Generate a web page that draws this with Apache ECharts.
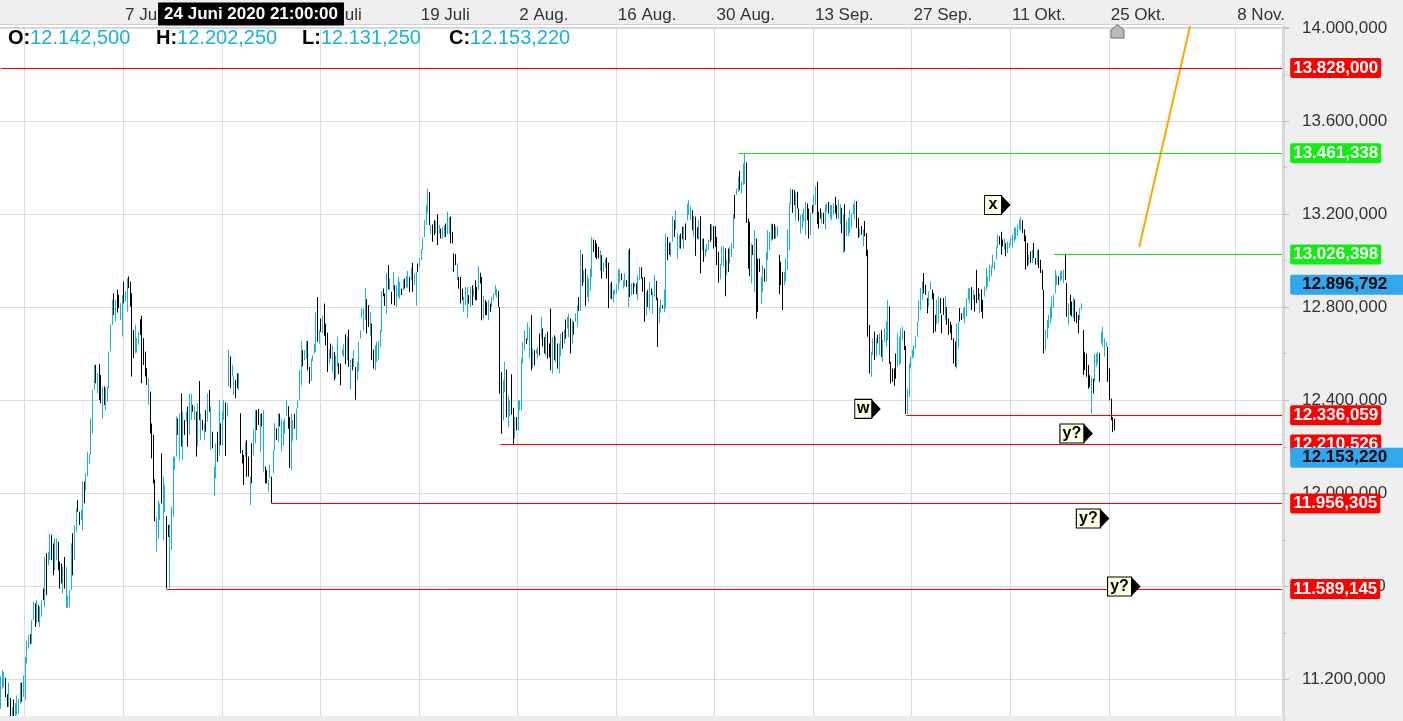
<!DOCTYPE html>
<html><head><meta charset="utf-8">
<script src="https://cdn.jsdelivr.net/npm/echarts@6/dist/echarts.min.js"></script>
<style>html,body{margin:0;padding:0;background:#fff;overflow:hidden}#c{width:1403px;height:721px}</style>
</head><body><div id="c"></div><script>
// ---- data: bars as [open, high, low, close] ----
const barsMayJun = [
[11100,11214,11075,11190],[11175,11240,11161,11225],[11185,11233,11168,11220],[11200,11208,11125,11140],[11130,11137,11082,11090],
[11095,11187,11082,11170],[11110,11121,11010,11030],[11035,11082,11020,11070],[11100,11115,11000,11015],[11020,11100,11010,11090],
[11055,11132,11046,11120],[11065,11118,11053,11105],[11105,11187,11096,11175],[11175,11187,11104,11115],[11130,11218,11125,11205],
[11140,11297,11111,11280],[11280,11369,11269,11355],[11345,11390,11333,11380],[11385,11395,11352,11360],[11365,11455,11355,11440],
[11460,11534,11455,11520],[11515,11527,11426,11440],[11450,11541,11441,11530],[11510,11519,11448,11460],[11440,11512,11426,11500],
[11480,11541,11469,11530],[11580,11591,11541,11550],[11545,11727,11512,11700],[11720,11742,11562,11580],[11700,11749,11691,11740],
[11725,11828,11713,11810],[11810,11821,11713,11730],[11760,11785,11648,11660],[11680,11806,11670,11790],[11725,11806,11713,11795],
[11780,11792,11670,11690],[11695,11706,11591,11600],[11690,11699,11613,11625],[11585,11684,11570,11670],[11710,11727,11591,11600],
[11520,11684,11508,11670],[11515,11562,11508,11555],[11525,11584,11512,11575],[11595,11785,11584,11770],[11800,11828,11648,11660],
[11725,11864,11713,11850],[11845,11935,11835,11925],[11965,11971,11921,11930],[11915,11921,11864,11870],[11890,11931,11885,11925],
[11860,12050,11842,12035],[12040,12050,11957,11965],[12020,12086,12014,12080],[12080,12179,12072,12170],[12135,12165,12129,12160],
[12170,12322,12165,12310],[12270,12444,12258,12430],[12450,12552,12444,12540],[12545,12552,12473,12480],[12440,12516,12430,12505],
[12530,12555,12401,12420],[12440,12509,12387,12395],[12330,12459,12322,12450],[12450,12459,12380,12390],[12370,12452,12358,12440],
[12400,12459,12394,12450],[12460,12609,12452,12600],[12615,12724,12609,12715],[12730,12832,12724,12825],[12840,12860,12767,12780],
[12750,12832,12738,12820],[12860,12875,12777,12790],[12845,12853,12796,12800],[12755,12817,12746,12810],[12700,12853,12674,12840],
[12900,12910,12817,12825],[12830,12867,12825,12860],[12800,12925,12781,12910],[12925,12932,12882,12890],[12895,12910,12803,12810],
[12800,12860,12502,12530],[12690,12702,12581,12590],[12610,12724,12602,12715],[12615,12667,12605,12660],[12645,12695,12638,12690],
[12740,12748,12681,12690],[12700,12763,12473,12480],[12655,12667,12552,12560],[12600,12609,12502,12510],[12530,12538,12466,12475],
[12390,12495,12380,12485],[12420,12437,12258,12270],[12290,12301,12150,12160],[12230,12251,12043,12050],[12050,12060,11880,11890],
[11760,11899,11749,11890],[11815,11971,11806,11960],[11890,11957,11885,11950],[12150,12172,11957,11965],[11810,12072,11799,12060],
[11930,12036,11921,12030],[11880,11902,11591,11610],[11860,11864,11813,11820],[11600,11868,11591,11850],[11770,11942,11756,11930],
[11910,12158,11899,12150],[12105,12158,12100,12150],[12165,12330,12158,12320],[12315,12322,12251,12260],[12150,12344,12143,12335],
[12400,12430,12201,12210],[12150,12351,12143,12345],[12310,12315,12251,12255],[12312,12351,12308,12345],[12360,12373,12201,12210],
[12260,12430,12251,12420],[12320,12427,12315,12420],[12375,12380,12351,12355],[12320,12373,12315,12370],[12345,12351,12158,12165],
[12210,12387,12201,12380],[12400,12483,12315,12320],[12235,12344,12229,12340],[12310,12315,12272,12275],[12235,12301,12229,12295],
[12350,12358,12265,12270],[12315,12430,12308,12425],[12435,12444,12351,12360],[12195,12373,12186,12365],[12260,12265,12193,12200],
[11995,12115,11988,12110],[12070,12215,12064,12210],[12255,12265,12136,12140],[12175,12401,12165,12390],[12295,12301,12208,12215],
[12215,12351,12208,12345],[12320,12401,12315,12395],[12385,12391,12161,12170],[12335,12387,12330,12380],[12465,12616,12459,12605],
[12580,12588,12452,12460],[12505,12552,12502,12548],[12430,12502,12423,12495],[12480,12487,12409,12415],[12510,12516,12452,12458],
[12450,12516,12444,12510],[12335,12344,12172,12180],[12180,12186,12129,12135],[12160,12165,12036,12045],[12162,12222,12158,12218],
[12220,12229,12072,12080],[12150,12158,12072,12078],[11955,12072,11950,12065],[12205,12215,12043,12050],[12170,12275,12165,12270],
[12220,12358,12215,12350],[12350,12358,12272,12280],[12355,12363,12294,12300],[12185,12344,12179,12340],[12338,12344,12287,12292],
[12100,12358,12093,12350],[12110,12115,12043,12050],[12095,12100,12043,12048],[12012,12057,12007,12052],[12068,12122,12064,12118],
[12065,12072,11957,11962],[12090,12186,12086,12180],[12190,12301,12186,12295],[12272,12279,12229,12235]
];
const barsJulAug = [
[12230,12345,12221,12335],[12335,12342,12288,12295],[12190,12321,12182,12315],[12212,12311,12206,12305],[12262,12321,12256,12315],
[12340,12400,12335,12395],[12368,12374,12278,12285],[12320,12328,12109,12120],[12110,12342,12099,12335],[12230,12314,12225,12308],
[12336,12342,12278,12285],[12235,12364,12228,12358],[12366,12400,12364,12396],[12405,12529,12400,12520],[12470,12654,12464,12645],
[12610,12615,12546,12552],[12576,12615,12572,12610],[12585,12655,12579,12650],[12645,12655,12529,12535],[12538,12543,12472,12478],
[12488,12579,12483,12574],[12571,12593,12569,12590],[12604,12641,12601,12638],[12612,12780,12608,12775],[12830,12844,12651,12660],
[12648,12701,12644,12696],[12745,12751,12694,12700],[12692,12761,12687,12755],[12800,12816,12677,12685],[12722,12730,12636,12642],
[12680,12690,12522,12530],[12562,12619,12558,12615],[12638,12644,12579,12585],[12528,12636,12522,12630],[12600,12608,12486,12492],
[12498,12593,12493,12588],[12548,12672,12543,12665],[12556,12560,12512,12516],[12552,12558,12464,12470],[12596,12618,12593,12615],
[12590,12641,12586,12636],[12676,12684,12555,12560],[12576,12672,12572,12668],[12696,12704,12543,12548],[12452,12575,12446,12570],
[12575,12579,12529,12533],[12548,12615,12543,12610],[12538,12543,12403,12408],[12490,12565,12486,12560],[12528,12651,12522,12645],
[12668,12701,12665,12698],[12757,12794,12754,12790],[12706,12794,12701,12788],[12750,12880,12744,12872],[12825,12834,12687,12694],
[12802,12809,12715,12720],[12684,12780,12679,12775],[12722,12730,12572,12578],[12612,12618,12536,12540],[12534,12636,12529,12630],
[12570,12651,12565,12646],[12576,12655,12572,12650],[12634,12701,12629,12696],[12700,12869,12694,12862],[12876,12880,12847,12850],
[12855,12859,12806,12810],[12778,12948,12773,12940],[12972,12981,12877,12884],[12876,12923,12873,12918],[12860,12866,12813,12818],
[12878,12952,12873,12946],[12888,12895,12809,12814],[12806,12895,12801,12890],[12848,12930,12844,12925],[12842,12909,12837,12904],
[12876,12880,12852,12855],[12876,12919,12873,12915],[12918,12923,12880,12884],[12887,12933,12883,12928],[12890,12956,12885,12950],
[12925,12930,12864,12868],[12920,12971,12916,12966],[12985,12991,12866,12870],[12898,12945,12895,12940],[12812,12952,12806,12946],
[12984,12988,12952,12956],[12976,13009,12973,13005],[13005,13049,13002,13045],[13048,13095,13045,13090],[13106,13174,13102,13170],
[13156,13239,13153,13234],[13208,13310,13203,13305],[13285,13293,13153,13160],[13117,13153,13114,13150],[13150,13156,13081,13085],
[13168,13174,13110,13114],[13120,13171,13117,13168],[13190,13199,13067,13072],[13120,13153,13117,13150],[13134,13138,13095,13098],
[13098,13143,13095,13140],[13105,13153,13102,13150],[13155,13160,13102,13106],[13116,13210,13113,13205],[13118,13189,13114,13185],
[13182,13189,13074,13078],[13120,13124,13074,13078],[13026,13031,12952,12956],[13024,13028,12981,12985],[12920,12988,12916,12984],
[12926,12930,12880,12884],[12924,12930,12816,12820],[12876,12880,12830,12834],[12784,12844,12780,12840],[12812,12887,12809,12882],
[12760,12887,12754,12882],[12848,12852,12816,12820],[12806,12887,12801,12882],[12888,12895,12809,12814],[12848,12880,12844,12876],
[12910,12916,12830,12835],[12882,12887,12830,12834],[12878,12976,12873,12970],[12944,12948,12902,12906],[12924,12930,12744,12750],
[12756,12847,12751,12842],[12825,12830,12766,12770],[12818,12823,12766,12770],[12748,12830,12744,12825],[12812,12816,12780,12784],
[12804,12844,12801,12840],[12833,12859,12830,12856],[12855,12895,12852,12890],[12844,12880,12841,12876],[12864,12869,12801,12805],
[12800,12801,12428,12440],[12430,12522,12256,12270],[12320,12486,12314,12480],[12440,12565,12436,12560],[12525,12532,12328,12335],
[12290,12421,12285,12415],[12335,12400,12331,12395],[12505,12512,12338,12345],[12360,12368,12211,12225],[12240,12328,12235,12322],
[12322,12328,12271,12276],[12276,12400,12271,12395],[12360,12400,12357,12396],[12362,12579,12357,12572],[12562,12651,12558,12646],
[12620,12701,12615,12696],[12662,12665,12641,12644],[12662,12734,12658,12730],[12584,12715,12579,12710],[12700,12766,12529,12535],
[12545,12622,12540,12618],[12610,12615,12550,12555],[12603,12619,12601,12617],[12583,12629,12579,12625],[12680,12687,12593,12598],
[12670,12758,12665,12752],[12702,12708,12632,12636],[12666,12672,12601,12605],[12598,12687,12593,12682],[12688,12694,12579,12584],
[12640,12644,12584,12588],[12785,12794,12529,12540],[12520,12672,12515,12665],[12672,12679,12572,12576],[12570,12672,12565,12668],
[12640,12644,12536,12540]
];
const barsAugSep = [
[12520,12644,12515,12638],[12594,12687,12589,12682],[12688,12694,12622,12628],[12648,12704,12644,12700],[12740,12747,12665,12670],
[12712,12758,12708,12754],[12676,12773,12672,12768],[12745,12751,12601,12606],[12648,12744,12644,12740],[12732,12737,12682,12686],
[12740,12773,12737,12770],[12720,12809,12715,12804],[12838,12844,12784,12788],[12790,13045,12784,13038],[13020,13028,12892,12898],
[12908,12959,12905,12955],[12960,12966,12806,12810],[12848,12938,12844,12934],[12828,12923,12823,12918],[12874,12966,12870,12962],
[12932,13102,12928,13096],[13086,13091,13038,13042],[13082,13088,13014,13018],[13068,13074,13006,13010],[13054,13059,13009,13014],
[12960,13045,12956,13040],[13018,13024,12923,12928],[12955,12991,12952,12988],[12974,13009,12971,13005],[13008,13014,12923,12928],
[12960,12991,12797,12805],[12840,12902,12837,12898],[12905,12910,12834,12838],[12824,12873,12820,12870],[12855,12876,12852,12874],
[12862,12899,12859,12896],[12880,12966,12876,12962],[12908,12962,12905,12958],[12942,12945,12916,12919],[12884,12916,12880,12912],
[12894,12945,12890,12940],[12912,12916,12887,12890],[12806,13045,12801,13040],[13045,13052,12844,12850],[12856,12902,12852,12898],
[12900,12905,12856,12860],[12889,12902,12887,12900],[12898,12902,12856,12860],[12835,12938,12830,12934],[12920,12973,12916,12970],
[12966,12971,12923,12927],[12924,12928,12866,12870],[12900,12930,12737,12745],[12770,12866,12766,12862],[12868,12873,12801,12805],
[12792,12909,12787,12904],[12876,12880,12852,12855],[12778,12866,12773,12862],[12848,12938,12844,12934],[12908,12913,12830,12834],
[12830,12841,12629,12640],[12736,12801,12732,12796],[12780,12833,12776,12829],[12806,12809,12794,12797],[12784,12876,12780,12872],
[12800,13117,12794,13110],[13096,13102,13002,13006],[13072,13077,13024,13028],[13020,13081,13016,13076],[13086,13191,13081,13186],
[13168,13174,13102,13106],[13138,13217,13134,13212],[13014,13120,13009,13115],[13056,13110,13052,13106],[13112,13117,13052,13056],
[13140,13146,13092,13096],[13056,13146,13052,13142],[13155,13160,13088,13092],[13178,13243,13174,13238],[13200,13260,13196,13255],
[13178,13232,13174,13228],[13212,13217,13131,13135],[13106,13191,13102,13186],[13182,13189,13021,13026],[13138,13143,13095,13099],
[13092,13174,13088,13170],[13170,13191,12945,12950],[13048,13095,13045,13091],[13090,13095,12995,13000],[13020,13052,13016,13048],
[13041,13071,13038,13068],[13048,13091,13045,13088],[13150,13156,13081,13086],[13092,13157,13088,13153],[13143,13148,13052,13056],
[13142,13148,13059,13063],[13096,13102,12981,12986],[13032,13038,12905,12910],[12922,12985,12919,12980],[12985,13059,12981,13055],
[12977,13062,12973,13058],[13045,13052,12847,12852],[12942,13002,12938,12998],[13046,13052,12952,12956],[12992,13059,12988,13055],
[13020,13074,13016,13070],[13056,13200,13052,13195],[13276,13282,13181,13186],[13285,13310,13282,13306],[13300,13361,13296,13356],
[13380,13386,13303,13308],[13292,13339,13289,13335],[13330,13418,13325,13414],[13334,13461,13329,13455],[13415,13422,13163,13170],
[13170,13181,12966,12972],[13160,13167,12933,12940],[12906,13074,12902,13068],[13062,13067,13024,13028],[12870,13131,12866,13126],
[13088,13095,12751,12760],[13000,13009,12780,12790],[13004,13009,12952,12956],[12820,12930,12816,12926],[12870,12981,12866,12976],
[12962,12966,12909,12913],[12913,13038,12909,13034],[13006,13131,13002,13126],[13048,13124,13045,13120],[13088,13160,13085,13156],
[13152,13157,13091,13095],[13150,13157,13094,13098],[13098,13148,13095,13144],[13105,13148,13102,13145],[13016,13024,12856,12860],
[12990,12995,12895,12900],[12946,12952,12787,12792],[12898,12952,12895,12948],[12912,13009,12909,13004],[12962,13134,12959,13130],
[13050,13249,13045,13244],[13246,13310,13243,13306],[13300,13306,13206,13210],[13298,13303,13239,13243],[13178,13292,13174,13288],
[13290,13296,13224,13228],[13220,13224,13171,13175],[13120,13196,13117,13192],[13142,13203,13138,13198],[13170,13224,13167,13220],
[13114,13253,13110,13248],[13240,13246,13174,13178],[13218,13224,13095,13100],[13114,13206,13110,13202],[13235,13239,13203,13206],
[13214,13282,13210,13278],[13242,13320,13239,13316],[13330,13339,13157,13162],[13204,13210,13138,13142],[13220,13224,13181,13185],
[13163,13206,13160,13202],[13202,13206,13157,13160],[13138,13239,13134,13235],[13213,13246,13210,13242],[13248,13253,13203,13206],
[13184,13239,13181,13235],[13178,13239,13174,13235],[13199,13246,13196,13242],[13270,13275,13203,13206],[13235,13239,13181,13185]
];
const barsSepOct = [
[13182,13263,13177,13258],[13160,13242,13155,13238],[13222,13227,13119,13124],[13040,13199,13033,13194],[13236,13242,13040,13046],
[13108,13170,13105,13166],[13108,13184,13105,13180],[13122,13220,13119,13216],[13144,13206,13141,13202],[13202,13242,13199,13238],
[13180,13256,13177,13252],[13250,13256,13141,13146],[13178,13184,13098,13102],[13108,13134,13105,13130],[13144,13148,13112,13115],
[13066,13134,13062,13130],[13165,13170,13105,13108],[13114,13119,13019,13024],[13030,13047,12673,12690],[12715,12724,12515,12525],
[12505,12609,12501,12604],[12598,12666,12594,12662],[12690,12695,12573,12578],[12590,12666,12587,12662],[12678,12681,12645,12648],
[12598,12688,12594,12684],[12696,12702,12587,12592],[12570,12659,12565,12655],[12655,12709,12652,12705],[12634,12738,12630,12734],
[12664,12832,12659,12826],[12780,12803,12558,12565],[12560,12565,12472,12476],[12532,12537,12479,12483],[12530,12537,12462,12466],
[12596,12601,12493,12498],[12548,12688,12544,12684],[12556,12673,12551,12668],[12562,12709,12558,12704],[12662,12716,12659,12712],
[12692,12698,12616,12620],[12620,12633,12342,12350],[12346,12450,12342,12445],[12418,12558,12414,12553],[12540,12587,12537,12583],
[12583,12616,12580,12612],[12590,12637,12587,12633],[12626,12673,12623,12669],[12676,12738,12673,12734],[12742,12832,12738,12827],
[12792,12882,12788,12877],[12836,12911,12832,12906],[12940,12947,12860,12865],[12892,12896,12853,12857],[12834,12839,12774,12778],
[12806,12868,12803,12864],[12878,12911,12875,12908],[12871,12875,12834,12838],[12855,12860,12688,12695],[12762,12767,12695,12700],
[12732,12832,12728,12828],[12736,12846,12731,12842],[12834,12839,12774,12778],[12762,12767,12688,12692],[12834,12839,12767,12770],
[12750,12846,12745,12842],[12795,12800,12724,12728],[12748,12752,12681,12685],[12734,12738,12688,12692],[12720,12724,12659,12663],
[12660,12666,12558,12562],[12646,12652,12544,12548],[12542,12731,12537,12726],[12627,12738,12623,12733],[12790,12796,12738,12742],
[12770,12774,12745,12748],[12755,12796,12752,12792],[12735,12803,12731,12799],[12764,12839,12760,12835],[12835,12882,12832,12878],
[12820,12882,12817,12878],[12880,12886,12788,12792],[12835,12875,12832,12871],[12848,12853,12781,12785],[12950,12961,12817,12822],
[12878,12882,12832,12836],[12778,12860,12774,12856],[12872,12878,12781,12785],[12826,12832,12752,12756],[12849,12889,12846,12885],
[12878,12968,12875,12964],[12892,12932,12889,12928],[12914,12983,12911,12978],[12935,12978,12932,12974],[12971,13026,12968,13022],
[12964,12997,12961,12993],[13007,13062,13004,13058],[13058,13112,13055,13108],[13101,13105,13069,13072],[13118,13124,13026,13030],
[13087,13091,13062,13065],[13050,13094,13047,13090],[13071,13076,13019,13023],[13036,13083,13033,13079],[13057,13076,13055,13073],
[13071,13098,13069,13095],[13058,13112,13055,13108],[13082,13145,13079,13141],[13094,13141,13091,13137],[13108,13155,13105,13151],
[13137,13177,13134,13173],[13130,13188,13127,13184],[13170,13174,13119,13122],[13130,13134,13083,13086],[13100,13108,12961,12966],
[13070,13076,12976,12980],[12986,13026,12983,13022],[13036,13040,12990,12994],[12993,13047,12990,13043],[13071,13076,13011,13015],
[13008,13011,12983,12986],[12986,13047,12983,13043],[13042,13047,12968,12972],[13000,13004,12947,12950],[12956,12961,12875,12880],
[12870,12875,12601,12610],[12620,12702,12616,12698],[12670,12745,12666,12740],[12712,12767,12709,12763],[12735,12803,12731,12799],
[12756,12846,12752,12842],[12799,12853,12796,12849],[12864,12961,12860,12957],[12899,12940,12896,12936],[12928,12932,12896,12900],
[12914,12954,12911,12950],[12921,12958,12918,12954],[12907,12961,12904,12957],[13000,13030,12918,12925],[12898,12904,12760,12765],
[12728,12817,12724,12813],[12848,12853,12767,12770],[12820,12824,12760,12764],[12756,12843,12752,12839],[12826,12832,12738,12742],
[12776,12781,12731,12734],[12762,12767,12688,12692],[12748,12796,12745,12792],[12791,12817,12788,12814],[12696,12702,12508,12515],
[12604,12609,12529,12533],[12596,12601,12501,12505],[12546,12551,12450,12454],[12504,12508,12457,12460],[12346,12501,12342,12496],
[12488,12493,12429,12432],[12483,12601,12479,12596],[12547,12601,12544,12597],[12561,12609,12558,12605],[12598,12604,12479,12483],
[12648,12695,12645,12691],[12634,12716,12630,12712],[12590,12666,12587,12662],[12632,12652,12630,12649],[12624,12630,12479,12483],
[12530,12537,12400,12405],[12402,12407,12314,12318],[12322,12328,12263,12268],[12316,12321,12270,12274]
];
// ---- axis / annotation data ----
const totalSlots = 781;
const dateTicks = [[15,' '],[75,'7 Juni'],[135,'21 Juni'],[195,'5 Juli'],[255,'19 Juli'],[315,'2 Aug.'],[375,'16 Aug.'],[435,'30 Aug.'],[495,'13 Sep.'],[555,'27 Sep.'],[615,'11 Okt.'],[675,'25 Okt.'],[752,'8 Nov.']];
const redLevels = [[13828.000,0],[12336.059,551],[12210.526,304],[11956.305,165],[11589.145,101]];
const greenLevels = [[13461.338,449],[13026.398,641]];
const blueTags = [12896.792, 12153.220];
const waveLabels = [[604,13239,'x'],[525,12363,'w'],[652,12257,'y?'],[662,11892,'y?'],[681,11600,'y?']];
const projection = [[693,13059],[724,14010]];
const ohlcKeys = ['O:','H:','L:','C:'];
const ohlcVals = [12142.500, 12202.250, 12131.250, 12153.220];
const crosshairTime = '24 Juni 2020 21:00:00';

// ---- helpers ----
const FONT = "'Liberation Sans', Arial, sans-serif";
function de(v){
  const s = v.toFixed(3).split('.');
  return s[0].replace(/\B(?=(\d{3})+(?!\d))/g,'.') + ',' + s[1];
}
const bars = [].concat(barsMayJun, barsJulAug, barsAugSep, barsSepOct);
const candleData = bars.map(b => [b[0], b[3], b[2], b[1]]);
const cats = new Array(totalSlots).fill('');
dateTicks.forEach(([i,t]) => { cats[i] = t; });
const isTick = (i, v) => v !== '';

const RED='#ff0000', GREEN='#13ec13', BLUE='#2fa8ee', CYAN='#16b3de';
const levelLines = [];
redLevels.forEach(([v,s]) => levelLines.push([
  {coord:[s,v], lineStyle:{color:RED}, label:{formatter:de(v), backgroundColor:RED}},
  {coord:[totalSlots-1,v]}]));
greenLevels.forEach(([v,s]) => levelLines.push([
  {coord:[s,v], lineStyle:{color:GREEN}, label:{formatter:de(v), backgroundColor:GREEN}},
  {coord:[totalSlots-1,v]}]));
blueTags.forEach(v => levelLines.push([
  {coord:[0,v], lineStyle:{color:'rgba(0,0,0,0)', width:0}, label:{formatter:de(v), backgroundColor:BLUE, color:'#000', padding:[2,30,1,12]}},
  {coord:[totalSlots-1,v]}]));

const boxW = t => t.length > 1 ? 24 : 17;

const ohlcX = [8, 156, 302, 449];
const graphics = [
  {type:'rect', z:-10, shape:{x:0,y:0,width:1283,height:24}, style:{fill:'#efefef'}},
  {type:'line', z:-9, shape:{x1:0,y1:24.5,x2:1283,y2:24.5}, style:{stroke:'#d2d2d2', lineWidth:1}},
  {type:'rect', z:-10, shape:{x:1283,y:0,width:120,height:721}, style:{fill:'#efefef'}},
  {type:'rect', z:100, shape:{x:0,y:716,width:1283,height:5}, style:{fill:'#ececec'}},
  {type:'text', z:100, x:251, y:14, style:{text:crosshairTime, fill:'#fff', font:'bold 17px '+FONT, align:'center', verticalAlign:'middle', backgroundColor:'#000', padding:[3,6,3,6]}},
  {type:'polygon', z:100, shape:{points:[[1111,38],[1111,30],[1117.5,24.5],[1124,30],[1124,38]]}, style:{fill:'#b9b9b9', stroke:'#6e6e6e', lineWidth:1}}
];
ohlcKeys.forEach((k,i) => graphics.push({
  type:'text', z:100, x:ohlcX[i], y:38,
  style:{text:'{k|'+k+'}{v|'+de(ohlcVals[i])+'}', verticalAlign:'middle',
    rich:{k:{fill:'#000', fontWeight:'bold', fontSize:20, fontFamily:FONT}, v:{fill:CYAN, fontSize:20, fontFamily:FONT}}}
}));

const chart = echarts.init(document.getElementById('c'), null, {renderer:'canvas'});
chart.setOption({
  animation:false,
  backgroundColor:'#ffffff',
  grid:{left:0, right:120, top:27, height:745.6, containLabel:false, outerBoundsMode:'none'},
  xAxis:{
    type:'category', data:cats, position:'top', boundaryGap:true,
    axisLine:{show:true, lineStyle:{color:'#d2d2d2'}},
    axisTick:{show:false},
    axisLabel:{interval:isTick, align:'left', margin:3, color:'#333', fontSize:17, fontFamily:FONT, padding:[0,0,0,1]},
    splitLine:{show:true, interval:isTick, lineStyle:{color:'#dcdcdc', width:1}}
  },
  yAxis:{
    type:'value', position:'right', min:10800, max:14004.2, interval:400,
    axisLine:{show:true, lineStyle:{color:'#d8d8d8', width:3}},
    axisTick:{show:true, length:6, lineStyle:{color:'#c4c4c4'}},
    minorTick:{show:true, splitNumber:2, length:4, lineStyle:{color:'#c4c4c4'}},
    splitLine:{show:true, lineStyle:{color:'#dcdcdc', width:1}},
    axisLabel:{margin:19, color:'#333', fontSize:17, fontFamily:FONT, formatter:v => de(v), showMaxLabel:false, showMinLabel:false}
  },
  series:[
    {
      type:'candlestick', name:'DAX', data:candleData, large:false, barWidth:1, z:2,
      itemStyle:{color:CYAN, color0:'#000', borderColor:CYAN, borderColor0:'#000', borderWidth:1},
      markLine:{
        silent:true, symbol:['none','none'], animation:false,
        lineStyle:{type:'solid', width:1},
        label:{show:true, position:'end', distance:8, color:'#fff', fontWeight:'bold', fontSize:17, fontFamily:FONT, padding:[2,3,1,3], borderRadius:2},
        data:levelLines
      }
    },
    {
      type:'line', name:'Projektion', data:projection, symbol:'none', silent:true, z:3,
      lineStyle:{color:'#ffa500', width:2}
    },
    {
      type:'scatter', name:'Wellen', silent:true, z:6, symbol:'rect',
      data:waveLabels.map(([i,v,t]) => ({value:[i,v], name:t, symbolSize:[boxW(t),19]})),
      itemStyle:{color:'#ffffe1', borderColor:'#000', borderWidth:1, opacity:1},
      label:{show:true, position:'inside', formatter:p => p.name, color:'#000', fontWeight:'bold', fontSize:16, fontFamily:FONT}
    },
    {
      type:'scatter', name:'Pfeile', silent:true, z:6, symbol:'triangle', symbolSize:[19,9], symbolRotate:-90,
      data:waveLabels.map(([i,v,t]) => ({value:[i,v], symbolOffset:[boxW(t)/2+4.5,0]})),
      itemStyle:{color:'#000', opacity:1}
    }
  ],
  graphic:graphics
});
</script></body></html>
